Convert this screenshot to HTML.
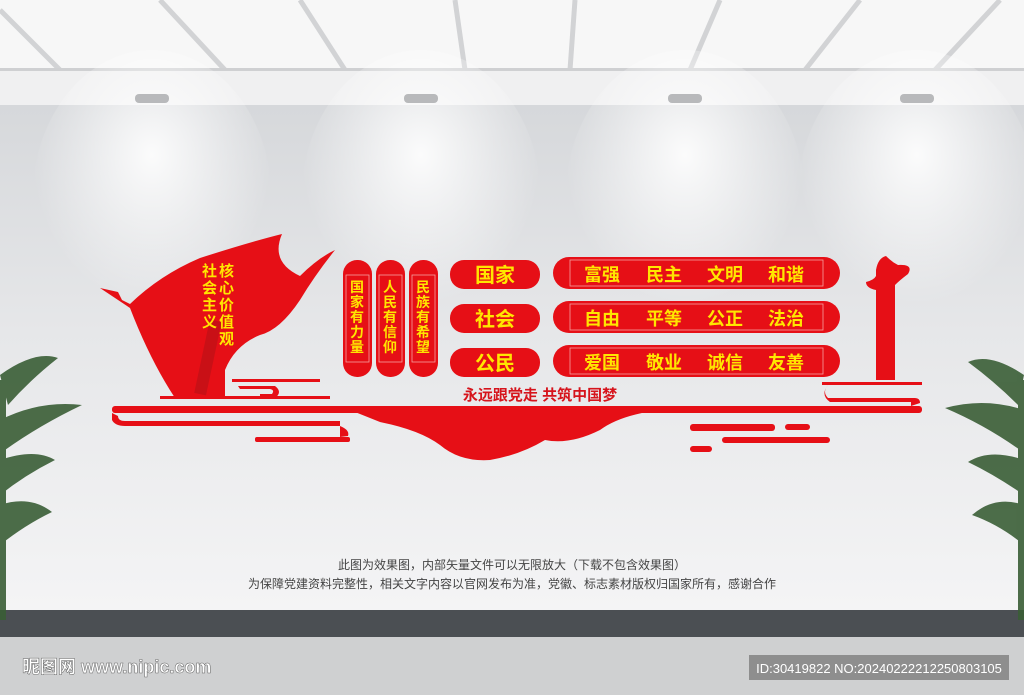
<!DOCTYPE html>
<html><head><meta charset="utf-8"><style>
body{margin:0;width:1024px;height:695px;overflow:hidden;font-family:"Liberation Sans","Noto Sans CJK SC",sans-serif;}
svg{position:absolute;left:0;top:0}
</style></head><body>
<svg width="1024" height="695" viewBox="0 0 1024 695" xmlns="http://www.w3.org/2000/svg">
<defs>
<radialGradient id="spot" cx="50%" cy="35%" r="50%">
<stop offset="0" stop-color="#ffffff" stop-opacity="0.9"/>
<stop offset="0.6" stop-color="#ffffff" stop-opacity="0.35"/>
<stop offset="1" stop-color="#ffffff" stop-opacity="0"/>
</radialGradient>
<linearGradient id="wall" x1="0" y1="0" x2="0" y2="1">
<stop offset="0" stop-color="#d6d8db"/><stop offset="0.45" stop-color="#e6e7e9"/><stop offset="1" stop-color="#f4f4f5"/>
</linearGradient>
</defs>
<rect width="1024" height="70" fill="#f7f7f7"/>
<g stroke="#d2d3d5" stroke-width="5">
<line x1="0" y1="10" x2="60" y2="70"/><line x1="160" y1="0" x2="225" y2="70"/>
<line x1="300" y1="0" x2="345" y2="70"/><line x1="455" y1="0" x2="465" y2="70"/>
<line x1="575" y1="0" x2="570" y2="70"/><line x1="720" y1="0" x2="690" y2="70"/>
<line x1="860" y1="0" x2="805" y2="70"/><line x1="1000" y1="0" x2="935" y2="70"/>
</g>
<rect y="68" width="1024" height="40" fill="#f0f0f1"/>
<rect y="68" width="1024" height="3" fill="#cfd0d2"/>
<rect y="105" width="1024" height="505" fill="url(#wall)"/>
<g fill="url(#spot)">
<ellipse cx="152" cy="200" rx="120" ry="150"/><ellipse cx="421" cy="200" rx="120" ry="150"/>
<ellipse cx="685" cy="200" rx="120" ry="150"/><ellipse cx="917" cy="200" rx="120" ry="150"/>
</g>
<g fill="#b8b9bb">
<rect x="135" y="94" width="34" height="9" rx="4"/><rect x="404" y="94" width="34" height="9" rx="4"/>
<rect x="668" y="94" width="34" height="9" rx="4"/><rect x="900" y="94" width="34" height="9" rx="4"/>
</g>
<rect y="610" width="1024" height="28" fill="#4b4f53"/>
<rect y="637" width="1024" height="58" fill="#cfd0d1"/>
<!-- plants -->
<g fill="#3a5e36" opacity="0.9">
<path d="M0 375 Q35 350 58 358 Q30 380 8 405Z"/><path d="M0 420 Q40 400 82 405 Q40 425 5 450Z"/>
<path d="M0 460 Q35 448 55 460 Q25 475 0 495Z"/><path d="M0 505 Q30 495 52 512 Q25 525 0 545Z"/>
<rect x="0" y="380" width="6" height="240"/>
<path d="M1024 375 Q990 352 968 362 Q995 382 1018 405Z"/><path d="M1024 410 Q985 397 945 408 Q985 425 1020 450Z"/>
<path d="M1024 460 Q990 448 968 462 Q995 475 1024 495Z"/><path d="M1024 505 Q995 495 972 515 Q1000 525 1024 545Z"/>
<rect x="1018" y="380" width="6" height="240"/>
</g>
<g fill="#e60f16">
<rect x="112" y="406" width="810" height="7" rx="3"/>
<path d="M350 410 L660 410 Q620 415 600 430 Q570 445 545 440 Q520 455 490 460 Q460 462 440 445 Q420 430 380 422 Q365 416 350 410Z"/>
<path d="M112 413 L112 420 Q115 426 125 426 L340 426 L340 421 L125 421 Q118 421 118 416Z"/>
<rect x="255" y="437" width="95" height="5" rx="2"/>
<path d="M340 426 Q350 430 348 436 L340 437Z"/>
<rect x="690" y="424" width="85" height="7" rx="3"/><rect x="722" y="437" width="108" height="6" rx="3"/>
<rect x="690" y="446" width="22" height="6" rx="3"/><rect x="785" y="424" width="25" height="6" rx="3"/>
<!-- flag -->
<path d="M100 288 L118 292 L122 300 L130 304 Q160 275 200 258 Q250 242 282 234 Q270 262 300 276 Q318 258 335 250 Q315 275 300 300 Q280 330 260 335 Q235 345 225 370 L225 398 L175 398 Q150 360 130 308Z"/>
<rect x="160" y="396" width="170" height="3"/>
<rect x="232" y="379" width="88" height="3"/>
<path d="M238 386 L275 386 Q283 392 275 398 L260 398 L260 394 L272 394 Q275 390 270 389 L240 389Z"/>
<!-- pillar -->
<path d="M876 270 Q878 258 886 256 Q892 262 898 265 Q914 264 908 274 Q900 280 895 285 L895 380 L876 380 L876 290 Q866 288 866 282 Q874 280 876 276Z"/>
<rect x="822" y="382" width="100" height="3"/>
<path d="M828 385 Q822 392 828 398 L915 398 Q920 398 920 403 L911 406 L911 402 L830 402 Q820 395 828 385Z"/>
</g>
<rect x="202" y="320" width="12" height="75" fill="#b51018" opacity="0.6" transform="rotate(12 208 357)"/>
<g font-weight="bold" fill="#ffe600" font-size="15">
<text x="202" y="276">社</text><text x="202" y="293">会</text><text x="202" y="310">主</text><text x="202" y="327">义</text>
<text x="219" y="276">核</text><text x="219" y="293">心</text><text x="219" y="310">价</text><text x="219" y="327">值</text><text x="219" y="344">观</text>
</g>
<g>
<rect x="343" y="260" width="29" height="117" rx="14" fill="#e60f16"/>
<rect x="376" y="260" width="29" height="117" rx="14" fill="#e60f16"/>
<rect x="409" y="260" width="29" height="117" rx="14" fill="#e60f16"/>
<g fill="none" stroke="#f4a0a0" stroke-width="0.8">
<rect x="346" y="275" width="23" height="87"/><rect x="379" y="275" width="23" height="87"/><rect x="412" y="275" width="23" height="87"/>
</g>
</g>
<g font-weight="bold" fill="#ffe600" font-size="14" text-anchor="middle">
<text x="357" y="292">国</text><text x="357" y="307">家</text><text x="357" y="322">有</text><text x="357" y="337">力</text><text x="357" y="352">量</text>
<text x="390" y="292">人</text><text x="390" y="307">民</text><text x="390" y="322">有</text><text x="390" y="337">信</text><text x="390" y="352">仰</text>
<text x="423" y="292">民</text><text x="423" y="307">族</text><text x="423" y="322">有</text><text x="423" y="337">希</text><text x="423" y="352">望</text>
</g>
<g fill="#e60f16">
<rect x="450" y="260" width="90" height="29" rx="14"/><rect x="450" y="304" width="90" height="29" rx="14"/><rect x="450" y="348" width="90" height="29" rx="14"/>
<rect x="553" y="257" width="287" height="32" rx="16"/><rect x="553" y="301" width="287" height="32" rx="16"/><rect x="553" y="345" width="287" height="32" rx="16"/>
</g>
<g fill="none" stroke="#f4a0a0" stroke-width="0.8">
<rect x="570" y="260" width="253" height="26"/><rect x="570" y="304" width="253" height="26"/><rect x="570" y="348" width="253" height="26"/>
</g>
<g font-weight="bold" fill="#ffe600" font-size="20" text-anchor="middle">
<text x="495" y="282">国家</text><text x="495" y="326">社会</text><text x="495" y="370">公民</text>
</g>
<g font-weight="bold" fill="#ffe600" font-size="18">
<text x="584" y="281">富强</text><text x="646" y="281">民主</text><text x="707" y="281">文明</text><text x="768" y="281">和谐</text>
<text x="584" y="325">自由</text><text x="646" y="325">平等</text><text x="707" y="325">公正</text><text x="768" y="325">法治</text>
<text x="584" y="369">爱国</text><text x="646" y="369">敬业</text><text x="707" y="369">诚信</text><text x="768" y="369">友善</text>
</g>
<text x="540" y="400" text-anchor="middle" font-weight="bold" font-size="15" fill="#d6141c">永远跟党走 共筑中国梦</text>
<g font-size="12" fill="#444" text-anchor="middle">
<text x="512" y="569">此图为效果图，内部矢量文件可以无限放大（下载不包含效果图）</text>
<text x="512" y="588">为保障党建资料完整性，相关文字内容以官网发布为准，党徽、标志素材版权归国家所有，感谢合作</text>
</g>
<text x="22" y="673" font-size="18" font-weight="bold" fill="#fff" stroke="#666" stroke-width="0.5">昵图网 www.nipic.com</text>
<rect x="749" y="655" width="260" height="25" fill="#8e8e8e"/>
<text x="879" y="673" text-anchor="middle" font-size="13" fill="#fff">ID:30419822 NO:20240222212250803105</text>
</svg>
</body></html>
